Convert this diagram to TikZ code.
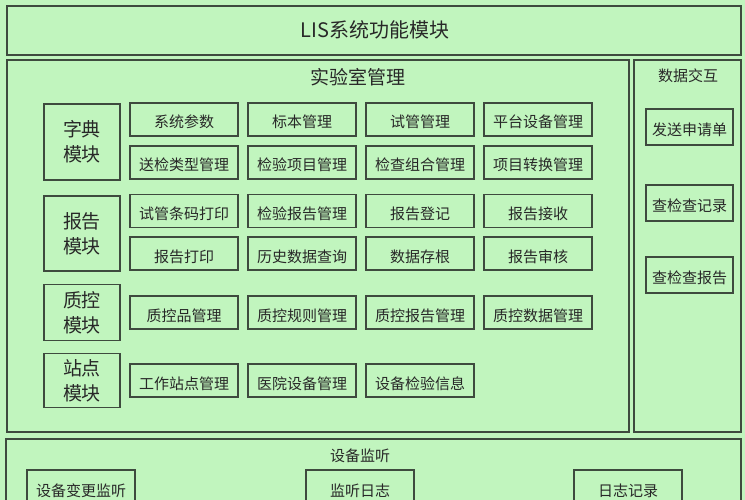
\documentclass[tikz,border=0pt]{standalone}
\usepackage{fontspec}
\setmainfont{Noto Sans CJK SC}
\definecolor{panel}{RGB}{193,245,190}
\definecolor{edge}{RGB}{62,74,62}
\definecolor{ink}{RGB}{40,40,40}
\begin{document}
\begin{tikzpicture}[x=1pt,y=-1pt,
  frame/.style={rectangle,draw=edge,fill=panel,line width=1.5pt,inner sep=0pt},
  heading/.style={text=ink,inner sep=0pt,font=\fontsize{15}{18}\selectfont},
  cell/.style={rectangle,draw=edge,fill=panel,line width=1.5pt,inner sep=0pt,text=ink,minimum width=108pt,minimum height=33pt,text height=17pt,text depth=0pt,font=\fontsize{15}{18}\selectfont},
  link/.style={cell,minimum width=87pt,minimum height=36pt},
  watch/.style={cell,minimum height=36pt},
  module/.style={rectangle,draw=edge,fill=panel,line width=1.5pt,inner sep=0pt,text=ink,minimum width=76pt,align=center,font=\fontsize{19}{25}\selectfont}
  ]
  \useasboundingbox (0,0) rectangle (745,500);
  \fill[panel] (0,0) rectangle (745,500);
  % frames
  \node[frame,minimum width=734pt,minimum height=49pt] (system) at (374,30.5) {};
  \node[heading,font=\fontsize{20}{24}\selectfont] (systemtitle) at (375,30) {LIS系统功能模块};
  \node[frame,minimum width=622pt,minimum height=372pt] (lab) at (318,246) {};
  \node[heading,font=\fontsize{19}{23}\selectfont] (labtitle) at (358,77) {实验室管理};
  \node[frame,minimum width=107pt,minimum height=372pt] (data) at (687.5,246) {};
  \node[heading] (datatitle) at (688,76) {数据交互};
  \node[frame,minimum width=735pt,minimum height=72pt] (device) at (373.5,475) {};
  \node[heading] (devicetitle) at (360,456) {设备监听};
  % modules
  \node[module,minimum height=76pt] (dict) at (82,142) {字典\\模块};
  \node[module,minimum height=75pt] (report) at (82,233.5) {报告\\模块};
  \node[module,minimum height=56pt] (qc) at (82,312.5) {质控\\模块};
  \node[module,minimum height=54pt] (site) at (82,380.5) {站点\\模块};
  % dict
  \node[cell] (dictA) at (184,119.5) {系统参数};
  \node[cell] (dictB) at (302,119.5) {标本管理};
  \node[cell] (dictC) at (420,119.5) {试管管理};
  \node[cell] (dictD) at (538,119.5) {平台设备管理};
  \node[cell] (dictE) at (184,162.5) {送检类型管理};
  \node[cell] (dictF) at (302,162.5) {检验项目管理};
  \node[cell] (dictG) at (420,162.5) {检查组合管理};
  \node[cell] (dictH) at (538,162.5) {项目转换管理};
  % report
  \node[cell] (reportA) at (184,211) {试管条码打印};
  \node[cell] (reportB) at (302,211) {检验报告管理};
  \node[cell] (reportC) at (420,211) {报告登记};
  \node[cell] (reportD) at (538,211) {报告接收};
  \node[cell] (reportE) at (184,253.5) {报告打印};
  \node[cell] (reportF) at (302,253.5) {历史数据查询};
  \node[cell] (reportG) at (420,253.5) {数据存根};
  \node[cell] (reportH) at (538,253.5) {报告审核};
  % qc
  \node[cell] (qcA) at (184,312.5) {质控品管理};
  \node[cell] (qcB) at (302,312.5) {质控规则管理};
  \node[cell] (qcC) at (420,312.5) {质控报告管理};
  \node[cell] (qcD) at (538,312.5) {质控数据管理};
  % site
  \node[cell] (siteA) at (184,380.5) {工作站点管理};
  \node[cell] (siteB) at (302,380.5) {医院设备管理};
  \node[cell] (siteC) at (420,380.5) {设备检验信息};
  % data
  \node[link] (dataA) at (689.5,127) {发送申请单};
  \node[link] (dataB) at (689.5,203) {查检查记录};
  \node[link] (dataC) at (689.5,275) {查检查报告};
  % device
  \node[watch] (deviceA) at (81,488) {设备变更监听};
  \node[watch] (deviceB) at (360,488) {监听日志};
  \node[watch] (deviceC) at (628,488) {日志记录};
\end{tikzpicture}
\end{document}
